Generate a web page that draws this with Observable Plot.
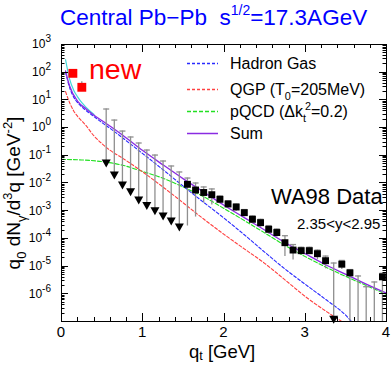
<!DOCTYPE html>
<html><head><meta charset="utf-8">
<script src="https://cdn.jsdelivr.net/npm/d3@7"></script>
<script src="https://cdn.jsdelivr.net/npm/@observablehq/plot@0.6"></script>
<style>
body{margin:0;background:#fff;}
#chart{width:392px;height:365px;}
svg{font-family:"Liberation Sans",Arial,sans-serif;}
</style></head><body><div id="chart"></div>
<script>
// ---- theory curves (q_t in GeV, yield in GeV^-2) ----
const hadronQ = [0.05,0.1,0.15,0.2,0.3,0.4,0.5,0.6,0.75,1.0,1.25,1.5,1.75,2.0,2.25,2.5,2.75,3.0,3.25,3.5,3.57];
const hadronV = [100,28,12.6,7.9,4.2,2.5,1.5,0.93,0.43,0.115,0.030,7.6e-3,2.0e-3,5.4e-4,1.35e-4,3.2e-5,7.9e-6,2.2e-6,6.3e-7,1.66e-7,1.0e-7];
const qgpQ = [0.05,0.1,0.15,0.2,0.3,0.4,0.5,0.6,0.75,1.0,1.25,1.5,1.75,2.0,2.25,2.5,2.75,3.0,3.25,3.45];
const qgpV = [20,7.9,4.0,2.5,1.2,0.5,0.26,0.15,0.079,0.025,7.1e-3,1.9e-3,5.0e-4,1.4e-4,4.2e-5,1.26e-5,3.2e-6,8.0e-7,2.4e-7,1.0e-7];
const pqcdQ = [0.0,0.25,0.5,0.75,1.0,1.25,1.5,1.75,2.0,2.25,2.5,2.75,3.0,3.25,3.5,3.75,4.0];
const pqcdV = [0.071,0.068,0.059,0.044,0.026,0.0148,7.1e-3,3.2e-3,1.2e-3,4.4e-4,1.58e-4,5.6e-5,2.2e-5,9.3e-6,4.2e-6,2.0e-6,9.5e-7];
const sumQ = [0.05,0.1,0.2,0.3,0.4,0.5,0.6,0.75,1.0,1.25,1.5,1.75,2.0,2.25,2.5,2.75,3.0,3.25,3.5,3.75,4.0];
const sumV = [112,31.6,8.9,4.8,2.8,1.78,1.12,0.54,0.148,0.045,0.0141,4.7e-3,1.58e-3,5.6e-4,2.0e-4,7.1e-5,2.8e-5,1.12e-5,5.0e-6,2.24e-6,1.05e-6];
const cyanQ = [0.05,0.1,0.15,0.2,0.25,0.3,0.4];
const cyanV = [282,56,22.4,12.6,7.9,5.5,2.95];

// ---- WA98 data points ----
const dataQ  = [1.55,1.65,1.75,1.85,1.95,2.05,2.15,2.25,2.35,2.45,2.55,2.65,2.75,2.85,2.95,3.05,3.15,3.25,3.45,3.55,3.95];
const dataV  = [8.97e-3,5.59e-3,4.54e-3,3.78e-3,2.58e-3,1.75e-3,1.36e-3,8.5e-4,4.9e-4,3.7e-4,2.13e-4,1.63e-4,7.0e-5,3.8e-5,3.6e-5,3.6e-5,2.8e-5,1.57e-5,1.17e-5,5.7e-6,4.1e-6];
const dataHi = [0.0151,0.010,7.2e-3,6.1e-3,3.4e-3,2.3e-3,1.75e-3,1.1e-3,6.5e-4,4.9e-4,2.9e-4,2.2e-4,1.25e-4,6.0e-5,4.8e-5,4.8e-5,3.8e-5,2.3e-5,1.6e-5,7.5e-6,5.5e-6];
const dataLo = [2.8e-4,5.9e-4,1.9e-3,1.6e-3,1.8e-3,1.25e-3,9.5e-4,6.0e-4,3.4e-4,2.5e-4,1.45e-4,1.1e-4,2.2e-5,1.66e-5,2.6e-5,2.6e-5,1.7e-5,8.0e-6,7.5e-6,1e-7,1e-7];

// ---- upper limits ----
const ulQ   = [0.55,0.65,0.75,0.85,0.95,1.05,1.15,1.25,1.35,1.45,3.35,3.65,3.75,3.85];
const ulTop = [4.69,1.87,0.75,0.458,0.278,0.155,0.102,0.0622,0.0411,0.025,1.29e-5,4.4e-6,1.8e-6,2.67e-6];
const ulBot = [0.0527,0.0195,8.48e-3,4.85e-3,2.43e-3,1.54e-3,1.0e-3,6.44e-4,4.25e-4,2.58e-4,1.2e-7,1e-7,1e-7,1e-7];
const ulTri = [0.0527,0.0195,8.48e-3,4.85e-3,2.43e-3,1.54e-3,1.0e-3,6.44e-4,4.25e-4,2.58e-4,1.2e-7,null,null,null];

// ---- "new" points ----
const newQ  = [0.14,0.25];
const newV  = [91,28.5];
const newHi = [91,45];

// ---- axis ticks ----
const xTickLabels = ["0","1","2","3","4"];
const yExponents = [3,2,1,0,-1,-2,-3,-4,-5,-6];

const tbl = (obj) => obj[Object.keys(obj)[0]].map((_, i) => Object.fromEntries(Object.keys(obj).map(k => [k, obj[k][i]])));

const hadron = tbl({q: hadronQ, v: hadronV});
const qgp = tbl({q: qgpQ, v: qgpV});
const pqcd = tbl({q: pqcdQ, v: pqcdV});
const sum = tbl({q: sumQ, v: sumV});
const cyan = tbl({q: cyanQ, v: cyanV});
const data = tbl({q: dataQ, v: dataV, hi: dataHi, lo: dataLo});
const ul = tbl({q: ulQ, top: ulTop, bot: ulBot, tri: ulTri});
const nw = tbl({q: newQ, v: newV, hi: newHi});

const cap = {draw(ctx) { ctx.moveTo(-3, 0); ctx.lineTo(3, 0); }};
const triDown = {draw(ctx) { ctx.moveTo(-4.5, -3.5); ctx.lineTo(4.5, -3.5); ctx.lineTo(0, 4.5); ctx.closePath(); }};

const colHadron = "#2a2aff", colQGP = "#ff4040", colPQCD = "#22e022", colSum = "#8a2be2";
const barColor = "#8f8f8f";
const plot = Plot.plot({
  width: 392, height: 365,
  marginLeft: 61, marginRight: 6, marginTop: 44, marginBottom: 44,
  x: {domain: [0, 4], axis: null},
  y: {type: "log", domain: [1e-7, 1e3], axis: null},
  style: {background: "white", fontFamily: "Liberation Sans, Arial, sans-serif", overflow: "visible"},
  marks: [
    Plot.line(pqcd, {x: "q", y: "v", stroke: colPQCD, strokeWidth: 1.1, strokeDasharray: "4,2", curve: "monotone-x"}),
    Plot.line(qgp, {x: "q", y: "v", stroke: colQGP, strokeWidth: 1.1, strokeDasharray: "3,2", curve: "monotone-x"}),
    Plot.line(hadron, {x: "q", y: "v", stroke: colHadron, strokeWidth: 1.1, strokeDasharray: "3,2", curve: "monotone-x"}),
    Plot.line(cyan, {x: "q", y: "v", stroke: "#40d8d8", strokeWidth: 1.2, curve: "monotone-x"}),
    Plot.line(sum, {x: "q", y: "v", stroke: colSum, strokeWidth: 1.3, curve: "monotone-x"}),
    Plot.ruleX(ul, {x: "q", y1: "bot", y2: "top", stroke: barColor, strokeWidth: 1.3}),
    Plot.dot(ul, {x: "q", y: "top", symbol: cap, fill: "none", stroke: barColor, strokeWidth: 1.3}),
    Plot.dot(ul, {filter: d => d.tri != null, x: "q", y: "tri", symbol: triDown, fill: "black", stroke: "none"}),
    Plot.ruleX(data, {x: "q", y1: "lo", y2: "hi", stroke: barColor, strokeWidth: 1.3}),
    Plot.dot(data, {x: "q", y: "hi", symbol: cap, fill: "none", stroke: barColor, strokeWidth: 1.3}),
    Plot.dot(data, {x: "q", y: "v", symbol: "square", r: 3.9, fill: "black", stroke: "none"}),
    Plot.ruleX(nw, {x: "q", y1: "v", y2: "hi", stroke: barColor, strokeWidth: 1.3}),
    Plot.dot(nw, {x: "q", y: "v", symbol: "square", r: 5, fill: "#ff0000", stroke: "none"}),
    Plot.frame({stroke: "black", strokeWidth: 1})
  ]
});
document.getElementById("chart").appendChild(plot);

const sx = plot.scale("x"), sy = plot.scale("y");
const svg = d3.select(plot);
const x0 = sx.apply(0), x1 = sx.apply(4), yTop = sy.apply(1e3), yBot = sy.apply(1e-7);
const g = svg.append("g").attr("stroke", "black").attr("stroke-width", 1);
// x ticks every 0.2
for (let i = 0; i <= 20; i++) {
  const q = i * 0.2, px = Math.round(sx.apply(q)) + 0.5, L = (i % 5 === 0) ? 8 : 4;
  g.append("line").attr("x1", px).attr("x2", px).attr("y1", yBot).attr("y2", yBot - L);
  g.append("line").attr("x1", px).attr("x2", px).attr("y1", yTop).attr("y2", yTop + L);
}
// y log ticks
for (let e = -7; e <= 3; e++) {
  for (let k = 1; k <= 9; k++) {
    if (e === 3 && k > 1) break;
    const v = k * Math.pow(10, e), py = Math.round(sy.apply(v)) + 0.5, L = k === 1 ? 7 : 3.5;
    g.append("line").attr("x1", x0).attr("x2", x0 + L).attr("y1", py).attr("y2", py);
    g.append("line").attr("x1", x1).attr("x2", x1 - L).attr("y1", py).attr("y2", py);
  }
}
const txt = (anchor = "start") => svg.append("text").attr("text-anchor", anchor).attr("fill", "black");
// rich text helper
function rich(sel, segs, size, subShift = 0.3) {
  let cur = 0;
  for (const s of segs) {
    const target = s.s === "sub" ? subShift * size : s.s === "sup" ? -0.42 * size : 0;
    const t = sel.append("tspan").attr("dy", target - cur).attr("font-size", s.s ? size * 0.68 : size).text(s.t);
    if (s.dx) t.attr("dx", s.dx);
    cur = target;
  }
  return sel;
}
// x tick labels
xTickLabels.forEach((lab, i) => {
  txt("middle").attr("x", sx.apply(i)).attr("y", 337).attr("font-size", 15).text(lab);
});
// y tick labels
yExponents.forEach(e => {
  const t = txt("end").attr("x", 51).attr("y", sy.apply(Math.pow(10, e)) + 4.3).attr("font-size", 12);
  t.append("tspan").text("10");
  t.append("tspan").attr("dy", -6).attr("font-size", 10).text(String(e));
});
// title
const title = txt().attr("x", 60).attr("y", 25).attr("fill", "#0000ff").attr("font-size", 22.5);
title.append("tspan").text("Central Pb\u2212Pb\u00a0\u00a0s");
title.append("tspan").attr("dy", -10).attr("font-size", 14).text("1/2");
title.append("tspan").attr("dy", 10).text("=17.3AGeV");
// axis titles
rich(txt().attr("x", 189).attr("y", 357.5), [{t: "q"}, {t: "t", s: "sub"}, {t: " [GeV]"}], 18.5, 0.16);
rich(txt("middle").attr("transform", "translate(20,193) rotate(-90)"),
  [{t: "q"}, {t: "0", s: "sub"}, {t: " dN"}, {t: "\u03b3", s: "sub"}, {t: "/d"}, {t: "3", s: "sup"}, {t: "q [GeV"}, {t: "-2", s: "sup"}, {t: "]"}], 19);
// legend
const legend = [
  {label: [{t: "Hadron Gas"}], color: colHadron, dash: "3,2", y: 63.5, base: 69.3},
  {label: [{t: "QGP (T"}, {t: "0", s: "sub"}, {t: "=205MeV)"}], color: colQGP, dash: "3,2", y: 89.5, base: 95.2},
  {label: [{t: "pQCD (\u0394k"}, {t: "t", s: "sub"}, {t: "2", s: "sup", dx: -1}, {t: "=0.2)"}], color: colPQCD, dash: "4,2", y: 111.5, base: 117.2},
  {label: [{t: "Sum"}], color: colSum, dash: null, y: 133.5, base: 139.2}
];
const lg = svg.append("g").attr("fill", "none");
legend.forEach(l => {
  const ln = lg.append("line").attr("x1", 187).attr("x2", 218).attr("y1", l.y).attr("y2", l.y)
    .style("stroke", l.color).style("stroke-width", "1.5px");
  if (l.dash) ln.style("stroke-dasharray", l.dash);
  rich(txt().attr("x", 230).attr("y", l.base), l.label, 16);
});
// annotations
txt().attr("x", 89).attr("y", 79.3).attr("fill", "#ff0000").attr("font-size", 28.5).text("new");
txt().attr("x", 271).attr("y", 203.5).attr("font-size", 22).text("WA98 Data");
txt().attr("x", 297).attr("y", 229.3).attr("font-size", 15).text("2.35<y<2.95");
</script></body></html>
